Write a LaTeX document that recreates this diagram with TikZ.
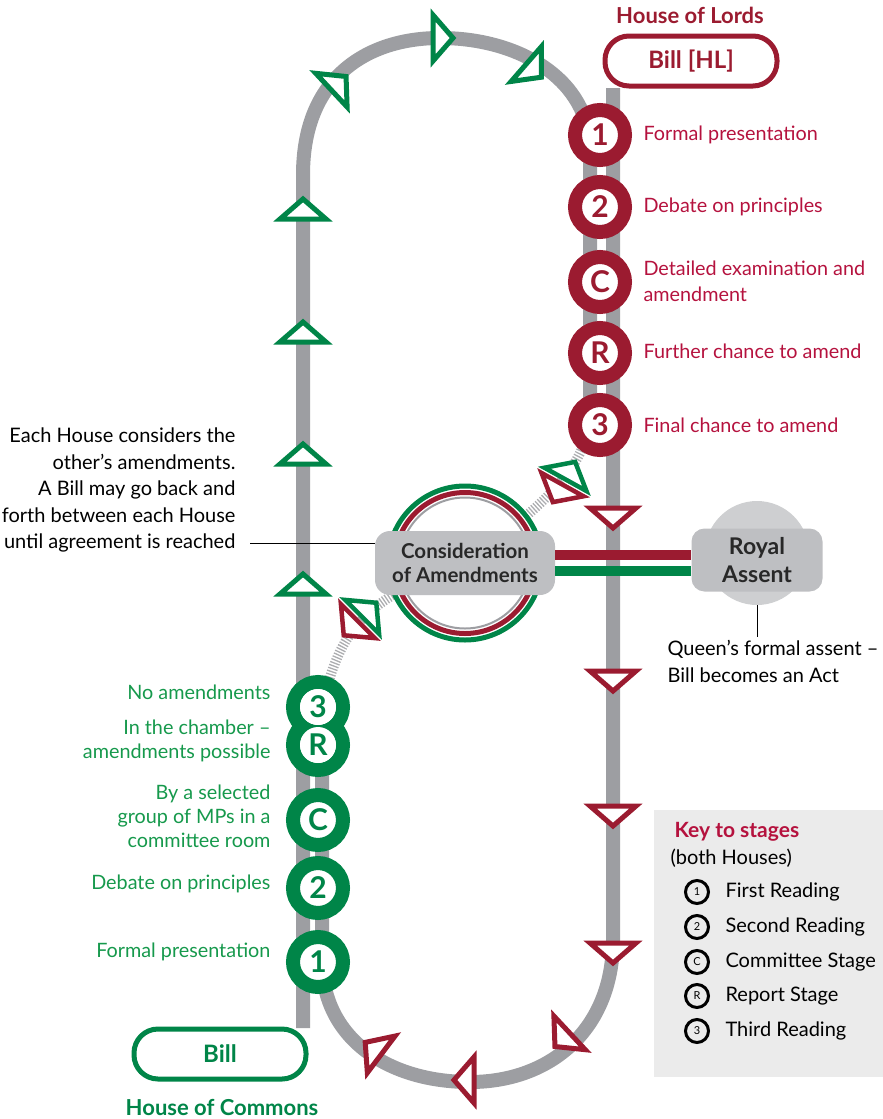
\documentclass[tikz,border=0pt]{standalone}
\usepackage{fontspec}
\setmainfont{Lato}

\definecolor{lordred}{RGB}{155,27,48}
\definecolor{lordtext}{RGB}{181,18,62}
\definecolor{commgreen}{RGB}{0,133,72}
\definecolor{commtext}{RGB}{22,153,76}
\definecolor{track}{RGB}{157,158,162}
\definecolor{boxgrey}{RGB}{190,191,194}
\definecolor{assentgrey}{RGB}{206,207,209}
\definecolor{keygrey}{RGB}{235,235,235}
\definecolor{darktext}{RGB}{40,40,40}

\tikzset{
    track/.style={draw=track,line width=14pt},
    hatch/.style={draw=track!85,line width=10pt,dash pattern=on 1.3pt off 1.7pt},
    stage/.style={circle,draw=#1,text=#1,fill=white,line width=14pt,minimum size=50pt,
        inner sep=0pt,font=\fontsize{30}{30}\selectfont\bfseries},
    keystage/.style={circle,draw=black,line width=3pt,minimum size=23pt,inner sep=0pt,
        font=\fontsize{11}{11}\selectfont},
    billbox/.style={draw=#1,text=#1,line width=5pt,fill=white,rounded corners=24pt,
        minimum width=172pt,minimum height=50pt,font=\fontsize{24}{24}\selectfont\bfseries},
    greybox/.style={fill=boxgrey,rounded corners=15pt,text=darktext,align=center,inner sep=0pt},
    bar/.style={draw=#1,line width=10pt},
    lordlabel/.style={text=lordtext,anchor=west,align=left,font=\fontsize{19.8}{26}\selectfont},
    commlabel/.style={text=commtext,anchor=east,align=right,font=\fontsize{19.8}{24}\selectfont},
    note/.style={text=black,font=\fontsize{20}{26.5}\selectfont},
    keytext/.style={anchor=west,font=\fontsize{20}{24}\selectfont},
    fwd/.pic={\draw[line width=5pt,fill=white,line join=miter] (-9,-23) -- (11,0) -- (-9,23) -- cycle;},
    pair/.pic={
        \draw[commgreen,line width=4.5pt,fill=white,line join=miter] (3,-24) -- (23,0) -- (3,24) -- cycle;
        \draw[lordred,line width=4.5pt,fill=white,line join=miter] (-3,-24) -- (-23,0) -- (-3,24) -- cycle;}
}

\begin{document}
\begin{tikzpicture}[x=1pt,y=-1pt]
\useasboundingbox (0,0) rectangle (883,1119);

\coordinate (cs) at (303,1028);
\coordinate (ct) at (303,175);
\coordinate (top) at (440,38);
\coordinate (lt) at (590,150);
\coordinate (lb) at (590,425);
\coordinate (hs) at (613,88);
\coordinate (hb) at (613,940);
\coordinate (bot) at (470,1082);
\coordinate (cb) at (322,960);
\coordinate (cu) at (322,707);
\coordinate (mid) at (465,563);

\draw[track] (cs) -- (ct) .. controls (303,75) and (370,38) .. (top)
    .. controls (520,38) and (590,80) .. (lt) -- (lb);
\draw[track] (hs) -- (hb) .. controls (613,1030) and (550,1082) .. (bot)
    .. controls (390,1082) and (322,1040) .. (cb) -- (cu);
\draw[hatch] (lb) .. controls (580,465) and (560,495) .. (mid);
\draw[hatch] (cu) .. controls (338,640) and (355,600) .. (mid);

\node[circle,draw=commgreen,line width=5pt,fill=white,minimum size=154pt] (ring) at (mid) {};
\node[circle,draw=lordred,line width=5pt,minimum size=141pt] (ringred) at (mid) {};
\node[circle,draw=track,line width=2pt,minimum size=131pt] (ringin) at (mid) {};
\node[greybox,minimum width=180pt,minimum height=64pt,
      font=\fontsize{20.5}{24}\selectfont\bfseries] (cons) at (mid) {Consideration\\of Amendments};

\node[circle,fill=assentgrey,minimum size=104pt] (crown) at (757,553) {};
\node[greybox,minimum width=131pt,minimum height=63pt,rounded corners=13pt,
      font=\fontsize{23}{28}\selectfont\bfseries] (royal) at (757,560) {Royal\\Assent};

\draw[bar=lordred] ([yshift=8pt]cons.east) -- ([yshift=8pt]cons.east -| royal.west);
\draw[bar=commgreen] ([yshift=-8pt]cons.east) -- ([yshift=-8pt]cons.east -| royal.west);

\begin{scope}[every node/.style={stage=lordred}]
    \node (l1) at (600,135) {1};
    \node (l2) at (600,207) {2};
    \node (lc) at (600,282) {C};
    \node (lr) at (600,353) {R};
    \node (l3) at (600,425) {3};
\end{scope}
\begin{scope}[every node/.style={stage=commgreen}]
    \node (c1) at (318,962) {1};
    \node (c2) at (318,888) {2};
    \node (cc) at (318,820) {C};
    \node (cr) at (318,745) {};
    \node (c3) at (318,707) {};
\end{scope}
\fill[white] (cr) circle (18) (c3) circle (18);
\node[text=commgreen,font=\fontsize{30}{30}\selectfont\bfseries] at (cr) {R};
\node[text=commgreen,font=\fontsize{30}{30}\selectfont\bfseries] at (c3) {3};

\node[billbox=commgreen] (bill) at (220,1054) {Bill};
\node[billbox=lordred] (hl) at (691,61) {Bill [HL]};
\node[text=commgreen,font=\fontsize{22}{22}\selectfont\bfseries] (commons) at (222,1107) {House of Commons};
\node[text=lordred,font=\fontsize{22}{22}\selectfont\bfseries] (lords) at (690,15) {House of Lords};

\foreach \y in {210,333,455,585}
    \pic[color=commgreen,rotate=90] at (303,\y) {fwd};
\pic[color=commgreen,rotate=43] at (338,84) {fwd};
\pic[color=commgreen] at (442,38) {fwd};
\pic[color=commgreen,rotate=-41] at (533,70) {fwd};
\foreach \y in {517,680,815,952}
    \pic[color=lordred,rotate=-90] at (613,\y) {fwd};
\pic[color=lordred,rotate=-137] at (563,1039) {fwd};
\pic[color=lordred,rotate=180] at (465,1080) {fwd};
\pic[color=lordred,rotate=143] at (374,1049) {fwd};
\pic[rotate=61] at (564,482) {pair};
\pic[rotate=45] at (360,619) {pair};

\node[lordlabel] (t1) at (640,135) {Formal presentation};
\node[lordlabel] (t2) at (640,207) {Debate on principles};
\node[lordlabel] (tc) at (640,281) {Detailed examination and\\amendment};
\node[lordlabel] (tr) at (640,351) {Further chance to amend};
\node[lordlabel] (t3) at (640,425) {Final chance to amend};

\node[commlabel] (s3) at (274,692) {No amendments};
\node[commlabel] (sr) at (274,741) {In the chamber –\\amendments possible};
\node[commlabel] (sc) at (274,816) {By a selected\\group of MPs in a\\committee room};
\node[commlabel] (s2) at (274,884) {Debate on principles};
\node[commlabel] (s1) at (274,952) {Formal presentation};

\node[note,anchor=east,align=right] (each) at (239,490)
    {Each House considers the\\other’s amendments.\\A Bill may go back and\\forth between each House\\until agreement is reached};
\coordinate (eachend) at (250,543);
\draw[line width=1pt] (eachend) -- (eachend -| cons.west);

\node[note,anchor=north west,align=left] (queen) at (664,637)
    {Queen’s formal assent –\\Bill becomes an Act};
\draw[line width=1pt] (crown.south) -- (crown.south |- queen.north);

\node[fill=keygrey,anchor=north west,minimum width=229pt,minimum height=267pt] (key) at (654,810) {};
\node[anchor=west,text=lordtext,font=\fontsize{21}{21}\selectfont\bfseries] (keyhead) at (671,832) {Key to stages};
\node[keytext] (keysub) at (667,858) {(both Houses)};
\begin{scope}[every node/.style={keystage}]
    \node (k1) at (697,892) {1};
    \node (k2) at (697,927) {2};
    \node (kc) at (697,962) {C};
    \node (kr) at (697,996) {R};
    \node (k3) at (697,1031) {3};
\end{scope}
\node[keytext] (kt1) at (722,892) {First Reading};
\node[keytext] (kt2) at (722,927) {Second Reading};
\node[keytext] (ktc) at (722,962) {Committee Stage};
\node[keytext] (ktr) at (722,996) {Report Stage};
\node[keytext] (kt3) at (722,1031) {Third Reading};
\end{tikzpicture}
\end{document}
